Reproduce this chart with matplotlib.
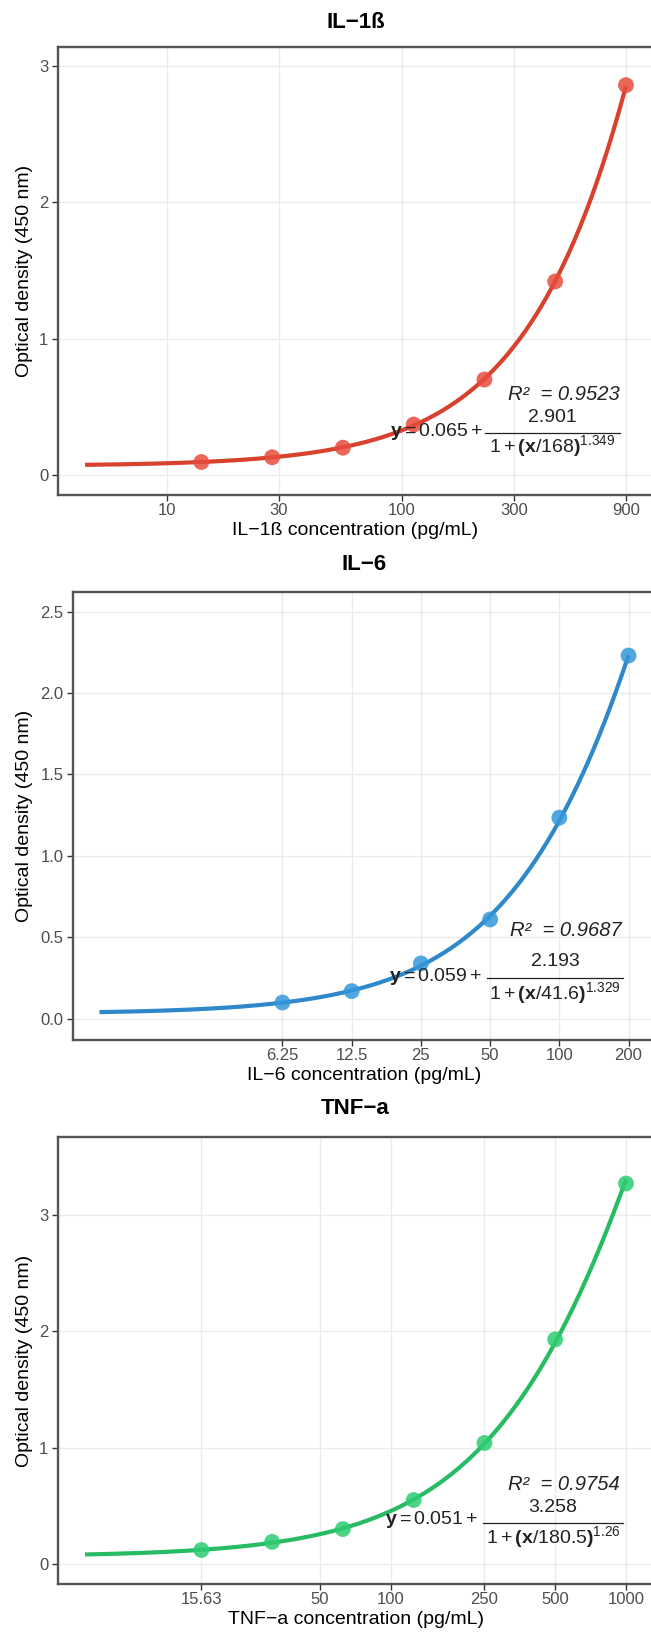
import numpy as np
import matplotlib
matplotlib.use("Agg")
import matplotlib.pyplot as plt
from matplotlib.lines import Line2D
from matplotlib.ticker import FixedLocator, FixedFormatter, NullLocator

# ---------------- data ----------------
il1b_conc = [14.06, 28.13, 56.25, 112.5, 225, 450, 900]
il1b_od = [0.095, 0.13, 0.20, 0.37, 0.70, 1.42, 2.86]
il1b_xticks = [10, 30, 100, 300, 900]
il1b_xticklabels = ["10", "30", "100", "300", "900"]
il1b_yticks = [0, 1, 2, 3]
il1b_yticklabels = ["0", "1", "2", "3"]

il6_conc = [6.25, 12.5, 25, 50, 100, 200]
il6_od = [0.10, 0.17, 0.34, 0.61, 1.235, 2.23]
il6_xticks = [6.25, 12.5, 25, 50, 100, 200]
il6_xticklabels = ["6.25", "12.5", "25", "50", "100", "200"]
il6_yticks = [0, 0.5, 1.0, 1.5, 2.0, 2.5]
il6_yticklabels = ["0.0", "0.5", "1.0", "1.5", "2.0", "2.5"]

tnf_conc = [15.63, 31.25, 62.5, 125, 250, 500, 1000]
tnf_od = [0.12, 0.19, 0.30, 0.55, 1.04, 1.93, 3.27]
tnf_xticks = [15.63, 50, 100, 250, 500, 1000]
tnf_xticklabels = ["15.63", "50", "100", "250", "500", "1000"]
tnf_yticks = [0, 1, 2, 3]
tnf_yticklabels = ["0", "1", "2", "3"]

titles = ["IL\u22121\u00df", "IL\u22126", "TNF\u2212a"]
xlabels = ["IL\u22121\u00df concentration (pg/mL)",
           "IL\u22126 concentration (pg/mL)",
           "TNF\u2212a concentration (pg/mL)"]
eq_const = ["0.065", "0.059", "0.051"]
eq_num = ["2.901", "2.193", "3.258"]
eq_ec50 = ["168", "41.6", "180.5"]
eq_exp = ["1.349", "1.329", "1.26"]
r2_vals = ["0.9523", "0.9687", "0.9754"]

colors = ["#E74C3C", "#3498DB", "#2ECC71"]
line_colors = ["#D9412F", "#2E88C9", "#27BB63"]

# ---------------- style ----------------
plt.rcParams["font.family"] = ["Liberation Sans", "DejaVu Sans"]
plt.rcParams["mathtext.fontset"] = "custom"
plt.rcParams["mathtext.rm"] = "Liberation Sans"
plt.rcParams["mathtext.it"] = "Liberation Sans:italic"
plt.rcParams["mathtext.bf"] = "Liberation Sans:bold"

W, H = 651, 1634
fig = plt.figure(figsize=(W / 100, H / 100), dpi=100)
fig.patch.set_facecolor("white")


def fx(x):
    return x / W


def fy(y):
    return 1 - y / H


def fit_4pl(c, y):
    """Weighted least-squares 4-parameter logistic: y = a + d / (1 + (k/x)**p)."""
    w = 1.0 / y
    best = None
    for p in np.linspace(0.6, 3.0, 97):
        for k in np.geomspace(c.max() / 20, c.max() * 50, 121):
            g = 1.0 / (1.0 + (k / c) ** p)
            X = np.column_stack([np.ones_like(c), g])
            sol, *_ = np.linalg.lstsq(X * w[:, None], y * w, rcond=None)
            sse = np.sum(((X @ sol - y) * w) ** 2)
            if best is None or sse < best[0]:
                best = (sse, sol, k, p)
    _, sol, k, p = best
    return lambda x: sol[0] + sol[1] / (1.0 + (k / x) ** p)


# layout in pixels: left, right, top, bottom
boxes = [(58, 653, 47, 495), (73, 655, 592, 1040), (58, 653, 1137, 1584)]
ylims = [(-0.147, 3.14), (-0.13, 2.62), (-0.172, 3.67)]
title_y = [22, 565, 1108]
xlabel_y = [530, 1076, 1619]
eq_layout = [
    dict(r2=(620, 395), num=(552, 417), line=(485, 620, 433), den=446, lhs=(483, 431)),
    dict(r2=(622, 930), num=(555, 962), line=(487, 623, 978), den=993, lhs=(482, 977)),
    dict(r2=(620, 1485), num=(553, 1507), line=(483, 623, 1523), den=1537, lhs=(478, 1520)),
]

panels = [
    (il1b_conc, il1b_od, il1b_xticks, il1b_xticklabels, il1b_yticks, il1b_yticklabels),
    (il6_conc, il6_od, il6_xticks, il6_xticklabels, il6_yticks, il6_yticklabels),
    (tnf_conc, tnf_od, tnf_xticks, tnf_xticklabels, tnf_yticks, tnf_yticklabels),
]

for i, (conc, od, xt, xtl, yt, ytl) in enumerate(panels):
    l, r, t, b = boxes[i]
    ax = fig.add_axes([fx(l), fy(b), (r - l) / W, (b - t) / H])
    c = np.array(conc, dtype=float)
    y = np.array(od, dtype=float)

    f = fit_4pl(c, y)
    xmax = c.max()
    xmin = xmax / 200.0
    xs = np.geomspace(xmin, xmax, 400)
    ax.plot(xs, f(xs), color=line_colors[i], lw=3.0, zorder=3, solid_capstyle="butt")
    ax.scatter(c, y, s=130, color=colors[i], alpha=0.85, edgecolors="none", zorder=4)

    ax.set_xscale("log")
    lo, hi = np.log10(xmin), np.log10(xmax)
    pad = 0.05 * (hi - lo)
    ax.set_xlim(10 ** (lo - pad), 10 ** (hi + pad))
    ax.set_ylim(*ylims[i])

    ax.xaxis.set_major_locator(FixedLocator(xt))
    ax.xaxis.set_major_formatter(FixedFormatter(xtl))
    ax.xaxis.set_minor_locator(NullLocator())
    ax.yaxis.set_major_locator(FixedLocator(yt))
    ax.yaxis.set_major_formatter(FixedFormatter(ytl))

    ax.grid(True, color="#EBEBEB", lw=1.0)
    ax.set_axisbelow(True)
    for s in ax.spines.values():
        s.set_color("#555555")
        s.set_linewidth(1.7)
    ax.tick_params(axis="both", length=4, width=1.0, color="#333333",
                   labelsize=12, labelcolor="#4D4D4D")
    ax.tick_params(axis="x", pad=2)
    ax.tick_params(axis="y", pad=3)

    cx = (l + r) / 2
    fig.text(fx(cx), fy(title_y[i]), titles[i], ha="center", va="center",
             fontsize=16, fontweight="bold", color="black")
    fig.text(fx(cx), fy(xlabel_y[i]), xlabels[i], ha="center", va="center",
             fontsize=14, color="black")
    fig.text(fx(25), fy((t + b) / 2), "Optical density (450 nm)", ha="center",
             va="center", rotation=90, fontsize=14, color="black")

    # equation annotation
    L = eq_layout[i]
    ecol = "#222222"
    fig.text(fx(L["r2"][0]), fy(L["r2"][1]), "R\u00b2  = " + r2_vals[i], ha="right",
             va="center", fontsize=14.5, style="italic", color=ecol)
    fig.text(fx(L["num"][0]), fy(L["num"][1]), eq_num[i], ha="center", va="center",
             fontsize=14, color=ecol)
    x0, x1, yl = L["line"]
    fig.add_artist(Line2D([fx(x0), fx(x1)], [fy(yl), fy(yl)], color=ecol, lw=0.9,
                          transform=fig.transFigure))
    den = (r"$1+\mathbf{(x}/" + eq_ec50[i] + r"\mathbf{)}^{" + eq_exp[i] + r"}$")
    fig.text(fx(L["num"][0]), fy(L["den"]), den, ha="center", va="center",
             fontsize=14, color=ecol)
    lhs = r"$\mathbf{y}=" + eq_const[i] + r"+$"
    fig.text(fx(L["lhs"][0]), fy(L["lhs"][1]), lhs, ha="right", va="center",
             fontsize=14, color=ecol)

fig.savefig("out.png", dpi=100, facecolor="white")
